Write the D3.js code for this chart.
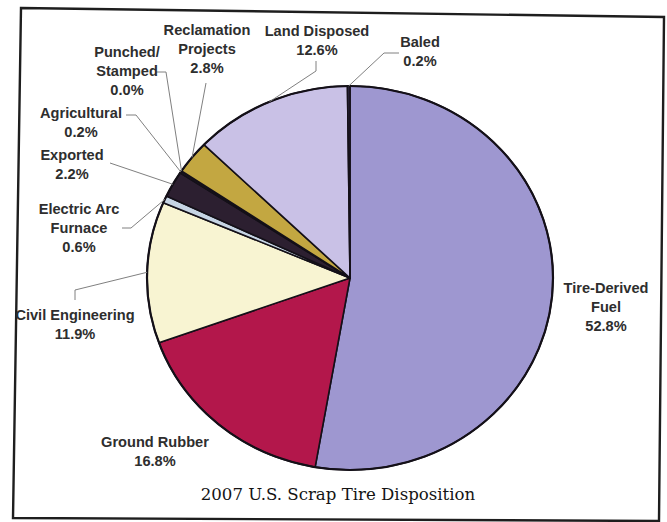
<!DOCTYPE html>
<head>
    <meta charset="UTF-8">
    <style>
    body { margin: 0; background: #fff; }
    .slice { stroke: #141018; stroke-width: 1.6; stroke-linejoin: round; }
    .leader { stroke: #808080; stroke-width: 1; fill: none; }
    .lbl { font-family: "Liberation Sans", Arial, sans-serif; font-size: 14.6px; font-weight: bold; fill: #2e2e2e; }
    .title { font-family: "DejaVu Serif", "Liberation Serif", serif; font-size: 16.6px; fill: #141414; }
    </style>
</head>
<svg width="667" height="522"></svg>
<script src="https://d3js.org/d3.v7.min.js"></script>
<script>
// data, clockwise from 12 o'clock
var categories = ["Tire-Derived Fuel", "Ground Rubber", "Civil Engineering", "Electric Arc Furnace",
    "Exported", "Agricultural", "Punched/Stamped", "Reclamation Projects", "Land Disposed", "Baled"];
var shares = [52.8, 16.8, 11.9, 0.6, 2.2, 0.2, 0.0, 2.8, 12.6, 0.2];
var labelLines = [
    ["Tire-Derived", "Fuel", "52.8%"],
    ["Ground Rubber", "16.8%"],
    ["Civil Engineering", "11.9%"],
    ["Electric Arc", "Furnace", "0.6%"],
    ["Exported", "2.2%"],
    ["Agricultural", "0.2%"],
    ["Punched/", "Stamped", "0.0%"],
    ["Reclamation", "Projects", "2.8%"],
    ["Land Disposed", "12.6%"],
    ["Baled", "0.2%"]
];
var title = "2007 U.S. Scrap Tire Disposition";

var colors = ["#9e97d0", "#b3174b", "#f8f4d2", "#c6d4e4", "#2c1f30", "#1c1620", "#1c1620",
    "#c3a741", "#c9c1e6", "#2e2844"];

// label placement: text centre x, first baseline y, leader elbow + end (null = no leader)
var layout = [
    { x: 606, y: 293, pts: null },
    { x: 155, y: 447, pts: null },
    { x: 75, y: 320, pts: [[75, 290], [75, 300]] },
    { x: 79, y: 214, pts: [[131, 228], [122, 228]] },
    { x: 72, y: 160, pts: [[110, 163], [110, 163]] },
    { x: 81, y: 118, pts: [[136, 115], [126, 115]] },
    { x: 127, y: 57, pts: [[166, 72], [155, 72]] },
    { x: 207, y: 35, pts: [[206, 83], [206, 83]] },
    { x: 317, y: 36, pts: [[316, 71], [316, 61]] },
    { x: 420, y: 47, pts: [[384, 53], [399, 53]] }
];

var svg = d3.select("svg");
var cx = 350, cy = 278, ry = 192, rx = 203;

// frame (scanned page is slightly skewed)
svg.append("path")
    .attr("d", "M21,8 L664,17 L659,521 L13,518 Z")
    .attr("fill", "none")
    .attr("stroke", "#1e1e1e")
    .attr("stroke-width", 2.4);

var data = categories.map(function(c, i) { return { name: c, value: shares[i], i: i }; });

var pie = d3.pie()
    .sort(null)
    .value(function(d) { return d.value; });

var arc = d3.arc().innerRadius(0).outerRadius(ry);

var arcs = pie(data);

var g = svg.append("g")
    .attr("transform", "translate(" + cx + "," + cy + ") scale(" + (rx / ry) + ",1)");

g.selectAll("path")
    .data(arcs)
    .enter().append("path")
    .attr("class", "slice")
    .attr("fill", function(d) { return colors[d.data.i]; })
    .attr("vector-effect", "non-scaling-stroke")
    .attr("d", arc);

// outer rim a bit heavier
g.append("ellipse")
    .attr("rx", ry).attr("ry", ry)
    .attr("fill", "none")
    .attr("stroke", "#141018")
    .attr("stroke-width", 2.2)
    .attr("vector-effect", "non-scaling-stroke");

// leaders
var lg = svg.append("g");
arcs.forEach(function(d, i) {
    var lay = layout[i];
    if (!lay.pts) return;
    var a = (d.startAngle + d.endAngle) / 2;
    var p0 = [cx + rx * Math.sin(a), cy - ry * Math.cos(a)];
    lg.append("path")
        .attr("class", "leader")
        .attr("d", d3.line()([p0, lay.pts[0], lay.pts[1]]));
});

// labels
var tg = svg.append("g");
layout.forEach(function(lay, i) {
    var t = tg.append("text")
        .attr("class", "lbl")
        .attr("text-anchor", "middle");
    labelLines[i].forEach(function(s, k) {
        t.append("tspan")
            .attr("x", lay.x)
            .attr("y", lay.y + k * 19)
            .text(s);
    });
});

svg.append("text")
    .attr("class", "title")
    .attr("x", 338)
    .attr("y", 500)
    .attr("text-anchor", "middle")
    .text(title);
</script>
